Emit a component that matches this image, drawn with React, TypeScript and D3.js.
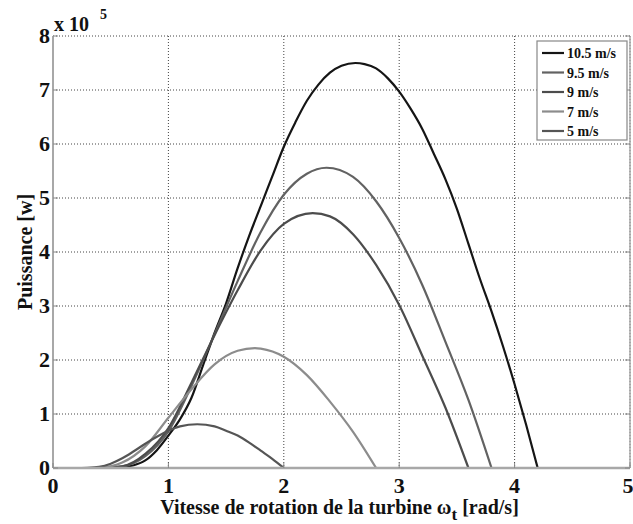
import * as d3 from "d3";

// rotor speed (rad/s) and power (x 1e5 W)
const omega105 = [0, 0.5, 0.6, 0.7, 0.8, 0.9, 1.0, 1.1, 1.2, 1.3, 1.4, 1.5, 1.6, 1.7, 1.8, 1.9, 2.0, 2.1, 2.2, 2.3, 2.4, 2.5, 2.62, 2.7, 2.8, 2.9, 3.0, 3.1, 3.2, 3.3, 3.4, 3.5, 3.6, 3.7, 3.8, 3.9, 4.0, 4.1, 4.2];
const power105 = [0, 0, 0.01, 0.05, 0.14, 0.33, 0.6, 0.9, 1.3, 1.9, 2.5, 3.05, 3.7, 4.3, 4.85, 5.4, 5.95, 6.4, 6.8, 7.1, 7.32, 7.45, 7.5, 7.48, 7.4, 7.22, 6.97, 6.65, 6.28, 5.82, 5.35, 4.8, 4.15, 3.5, 2.9, 2.25, 1.55, 0.8, 0];

const omega95 = [0, 0.4, 0.6, 0.8, 1.0, 1.2, 1.4, 1.6, 1.8, 2.0, 2.2, 2.37, 2.6, 2.8, 3.0, 3.2, 3.4, 3.6, 3.8];
const power95 = [0, 0, 0.03, 0.22, 0.68, 1.52, 2.48, 3.46, 4.37, 5.06, 5.45, 5.56, 5.39, 4.94, 4.26, 3.39, 2.34, 1.26, 0];

const omega9 = [0, 0.4, 0.6, 0.8, 1.0, 1.2, 1.4, 1.6, 1.8, 2.0, 2.25, 2.4, 2.6, 2.8, 3.0, 3.2, 3.4, 3.6];
const power9 = [0, 0, 0.03, 0.26, 0.74, 1.58, 2.46, 3.29, 4.03, 4.52, 4.72, 4.66, 4.33, 3.76, 3.02, 2.08, 1.12, 0];

const omega7 = [0, 0.35, 0.4, 0.6, 0.8, 1.0, 1.2, 1.4, 1.6, 1.75, 1.8, 2.0, 2.2, 2.4, 2.6, 2.8];
const power7 = [0, 0, 0.003, 0.1, 0.4, 0.93, 1.46, 1.92, 2.17, 2.22, 2.21, 2.06, 1.72, 1.23, 0.67, 0];

const omega5 = [0, 0.25, 0.3, 0.4, 0.5, 0.6, 0.7, 0.8, 0.9, 1.0, 1.1, 1.25, 1.4, 1.5, 1.6, 1.7, 1.8, 1.9, 2.0];
const power5 = [0, 0, 0.002, 0.02, 0.08, 0.18, 0.31, 0.45, 0.58, 0.69, 0.77, 0.81, 0.77, 0.69, 0.6, 0.47, 0.32, 0.17, 0];

const seriesNames = ["10.5 m/s", "9.5 m/s", "9 m/s", "7 m/s", "5 m/s"];
const seriesColors = ["#151515", "#626262", "#4c4c4c", "#8c8c8c", "#555555"];
const xTicks = [0, 1, 2, 3, 4, 5];
const yTicks = [0, 1, 2, 3, 4, 5, 6, 7, 8];

const W = 633;
const H = 524;
const m = { left: 53, right: 630, top: 36, bottom: 468 };
const font = "'Liberation Serif', 'Times New Roman', serif";

export default function App() {
  const x = d3.scaleLinear().domain([0, 5]).range([m.left, m.right]);
  const y = d3.scaleLinear().domain([0, 8]).range([m.bottom, m.top]);

  const series = [
    [omega105, power105],
    [omega95, power95],
    [omega9, power9],
    [omega7, power7],
    [omega5, power5],
  ].map(([om, pw]) => om.map((w, i) => [w, pw[i]] as [number, number]));

  const line = d3
    .line<[number, number]>()
    .x((d) => x(d[0]))
    .y((d) => y(d[1]))
    .curve(d3.curveMonotoneX);

  const legX = 537;
  const legY = 41;

  return (
    <svg
      width={W}
      height={H}
      style={{ position: "absolute", left: 0, top: 0, background: "#fff" }}
      fontFamily={font}
    >
      <rect x={0} y={0} width={W} height={H} fill="#fff" />

      {/* grid */}
      {xTicks.map((t) => (
        <line key={"gx" + t} x1={x(t)} x2={x(t)} y1={m.top} y2={m.bottom} stroke="#444" strokeWidth={1} strokeDasharray="1,2" />
      ))}
      {yTicks.map((t) => (
        <line key={"gy" + t} x1={m.left} x2={m.right} y1={y(t)} y2={y(t)} stroke="#444" strokeWidth={1} strokeDasharray="1,2" />
      ))}

      {/* curves */}
      {series.map((d, i) => (
        <path key={seriesNames[i]} d={line(d) ?? ""} fill="none" stroke={seriesColors[i]} strokeWidth={2.2} />
      ))}

      {/* frame */}
      <line x1={m.left} x2={m.left} y1={m.top} y2={m.bottom} stroke="#a8a8a8" strokeWidth={2} />
      <line x1={m.left} x2={m.right} y1={m.bottom} y2={m.bottom} stroke="#a8a8a8" strokeWidth={2.5} />
      <line x1={m.right} x2={m.right} y1={m.top} y2={m.bottom} stroke="#a8a8a8" strokeWidth={1.5} />
      {yTicks.map((t) => (
        <g key={"ty" + t}>
          <line x1={m.left} x2={m.left + 5} y1={y(t)} y2={y(t)} stroke="#888" />
          <line x1={m.right - 5} x2={m.right} y1={y(t)} y2={y(t)} stroke="#888" />
        </g>
      ))}
      {xTicks.map((t) => (
        <line key={"tx" + t} x1={x(t)} x2={x(t)} y1={m.bottom} y2={m.bottom - 5} stroke="#888" />
      ))}

      {/* tick labels */}
      {yTicks.map((t) => (
        <text key={"ly" + t} x={m.left - 3} y={y(t) + 7} textAnchor="end" fontSize={22} fontWeight={700} fill="#111">
          {t}
        </text>
      ))}
      {xTicks.map((t) => (
        <text key={"lx" + t} x={t === 5 ? x(t) - 2 : x(t)} y={m.bottom + 25} textAnchor="middle" fontSize={22} fontWeight={700} fill="#111">
          {t}
        </text>
      ))}

      {/* exponent */}
      <text x={m.left + 1} y={31} fontSize={20} fontWeight={700} fill="#111">
        x 10
      </text>
      <text x={m.left + 47} y={19} fontSize={14} fontWeight={700} fill="#111">
        5
      </text>

      {/* axis titles */}
      <text x={(m.left + m.right) / 2 - 2} y={514} textAnchor="middle" fontSize={20} fontWeight={700} fill="#111">
        Vitesse de rotation de la turbine ω
        <tspan dy={6} fontSize={17}>t</tspan>
        <tspan dy={-6}> [rad/s]</tspan>
      </text>
      <text
        transform={`translate(32,${(m.top + m.bottom) / 2}) rotate(-90)`}
        textAnchor="middle"
        fontSize={20}
        fontWeight={700}
        fill="#111"
      >
        Puissance [w]
      </text>

      {/* legend */}
      <rect x={legX} y={legY} width={90} height={99} fill="#fff" stroke="#888" strokeWidth={1.2} />
      {seriesNames.map((n, i) => {
        const cy = legY + 12 + i * 19.5;
        return (
          <g key={"leg" + n}>
            <line x1={legX + 5} x2={legX + 27} y1={cy} y2={cy} stroke={seriesColors[i]} strokeWidth={2.2} />
            <text x={legX + 30} y={cy + 5} fontSize={14} fontWeight={700} fill="#111">
              {n}
            </text>
          </g>
        );
      })}
    </svg>
  );
}
